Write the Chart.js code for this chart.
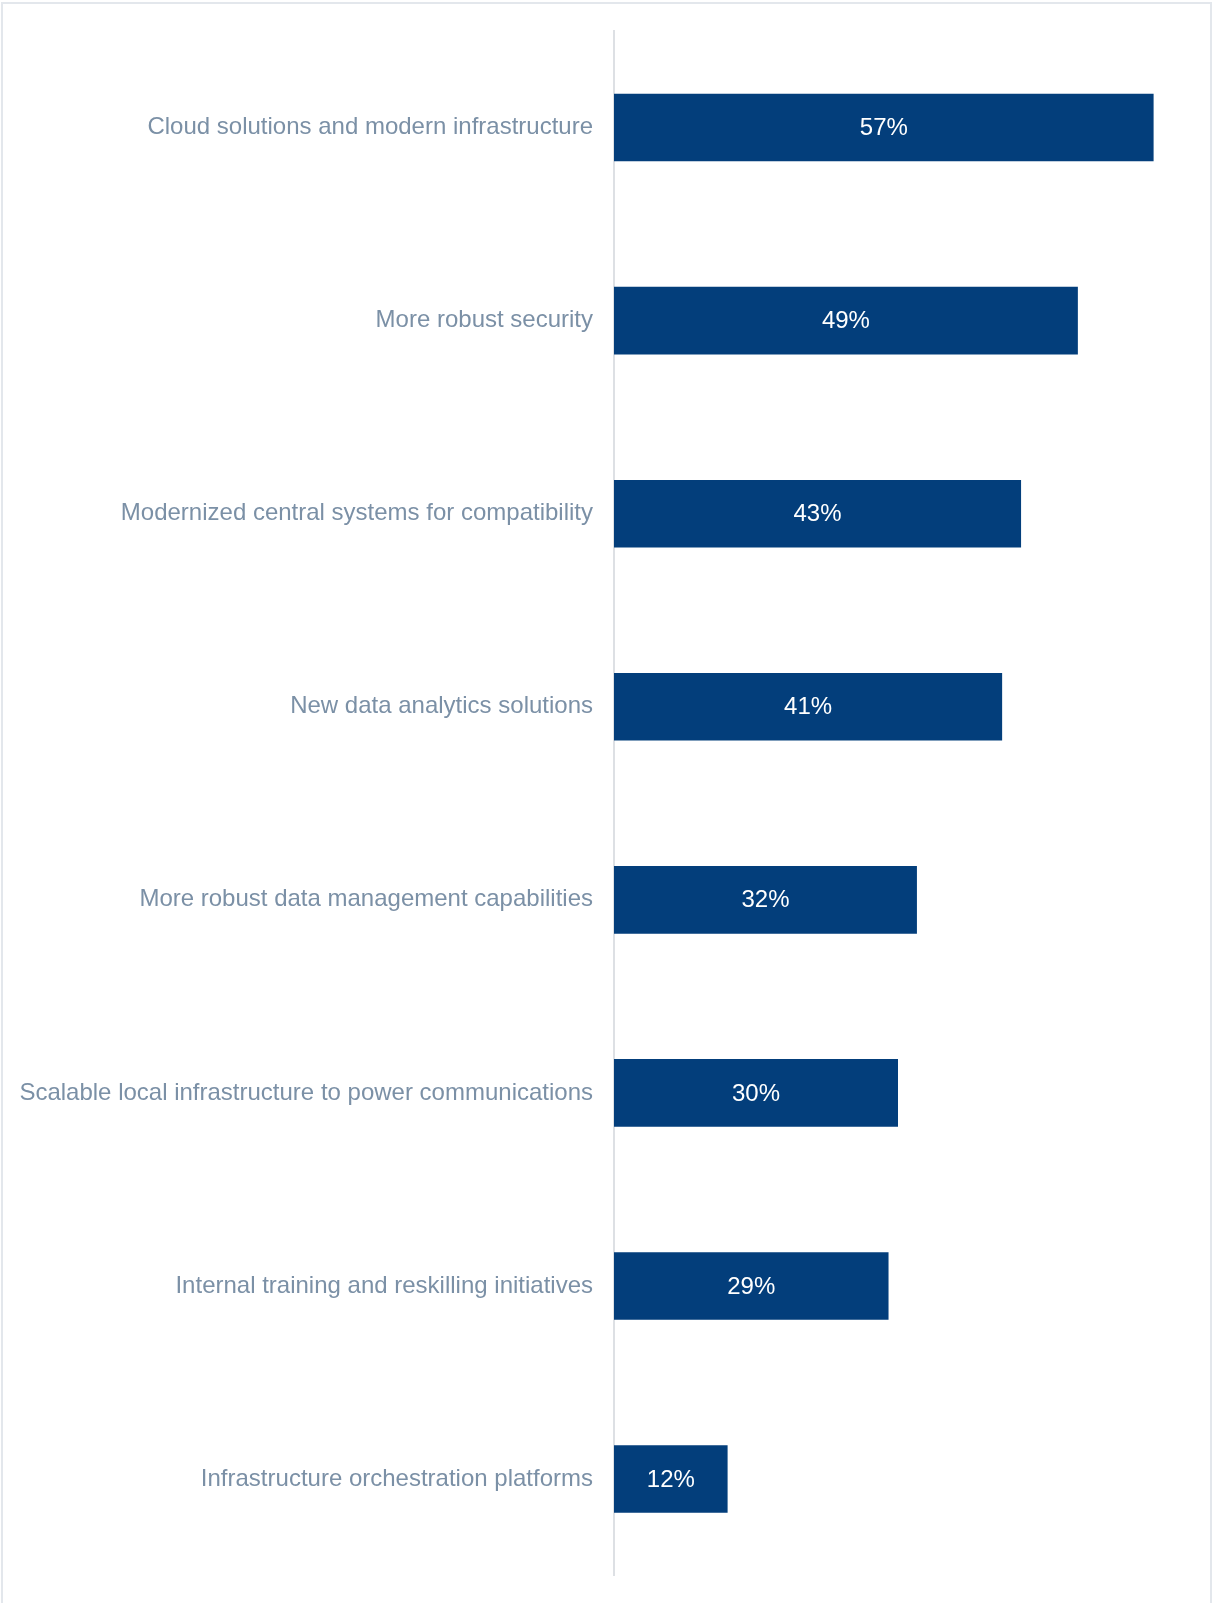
<!DOCTYPE html>
<html>
<head>
<meta charset="utf-8">
<script src="https://cdn.jsdelivr.net/npm/chart.js@4"></script>
<style>
  html, body { margin: 0; padding: 0; background: #fff; }
  #wrap { position: relative; width: 1212px; height: 1603px; }
  #frame {
    position: absolute; left: 1px; top: 2px; right: 0; bottom: -2px;
    border: 2px solid #e3e7ec; border-bottom: none; pointer-events: none;
  }
  canvas { position: absolute; left: 0; top: 0; }
</style>
</head>
<body>
<div id="wrap">
  <canvas id="myChart" width="1212" height="1603"></canvas>
  <div id="frame"></div>
</div>
<script>
let categories = [
    "Cloud solutions and modern infrastructure",
    "More robust security",
    "Modernized central systems for compatibility",
    "New data analytics solutions",
    "More robust data management capabilities",
    "Scalable local infrastructure to power communications",
    "Internal training and reskilling initiatives",
    "Infrastructure orchestration platforms"
];
let shares = [57, 49, 43, 41, 32, 30, 29, 12];

// white percentage text centred inside each bar
const barLabels = {
    id: 'barLabels',
    afterDatasetsDraw(chart) {
        let ctx = chart.ctx;
        let meta = chart.getDatasetMeta(0);
        ctx.save();
        ctx.fillStyle = '#ffffff';
        ctx.font = '24px "Liberation Sans", Arial, sans-serif';
        ctx.textAlign = 'center';
        ctx.textBaseline = 'middle';
        meta.data.forEach((bar, i) => {
            let x = (bar.base + bar.x) / 2;
            ctx.fillText(shares[i] + '%', x, bar.y + 1);
        });
        ctx.restore();
    }
};

new Chart(document.getElementById("myChart"), {
    type: 'bar',
    data: {
      labels: categories,
      datasets: [{
          data: shares,
          backgroundColor: "#033e7b",
          borderWidth: 0,
          categoryPercentage: 0.35,
          barPercentage: 1.0
        }
      ]
    },
    plugins: [barLabels],
    options: {
      indexAxis: 'y',
      responsive: false,
      animation: false,
      layout: {
        padding: { left: 0, right: 30, top: 31, bottom: 22 }
      },
      plugins: {
        legend: { display: false },
        tooltip: { enabled: false }
      },
      scales: {
        x: {
          display: false,
          min: 0,
          max: 60
        },
        y: {
          afterFit(scale) { scale.width = 614; },
          grid: { display: false },
          border: { display: true, color: '#dde0e4', width: 2 },
          ticks: {
            padding: 13,
            color: '#7b90a6',
            font: { size: 24, family: '"Liberation Sans", Arial, sans-serif' }
          }
        }
      }
    }
  });
</script>
</body>
</html>
